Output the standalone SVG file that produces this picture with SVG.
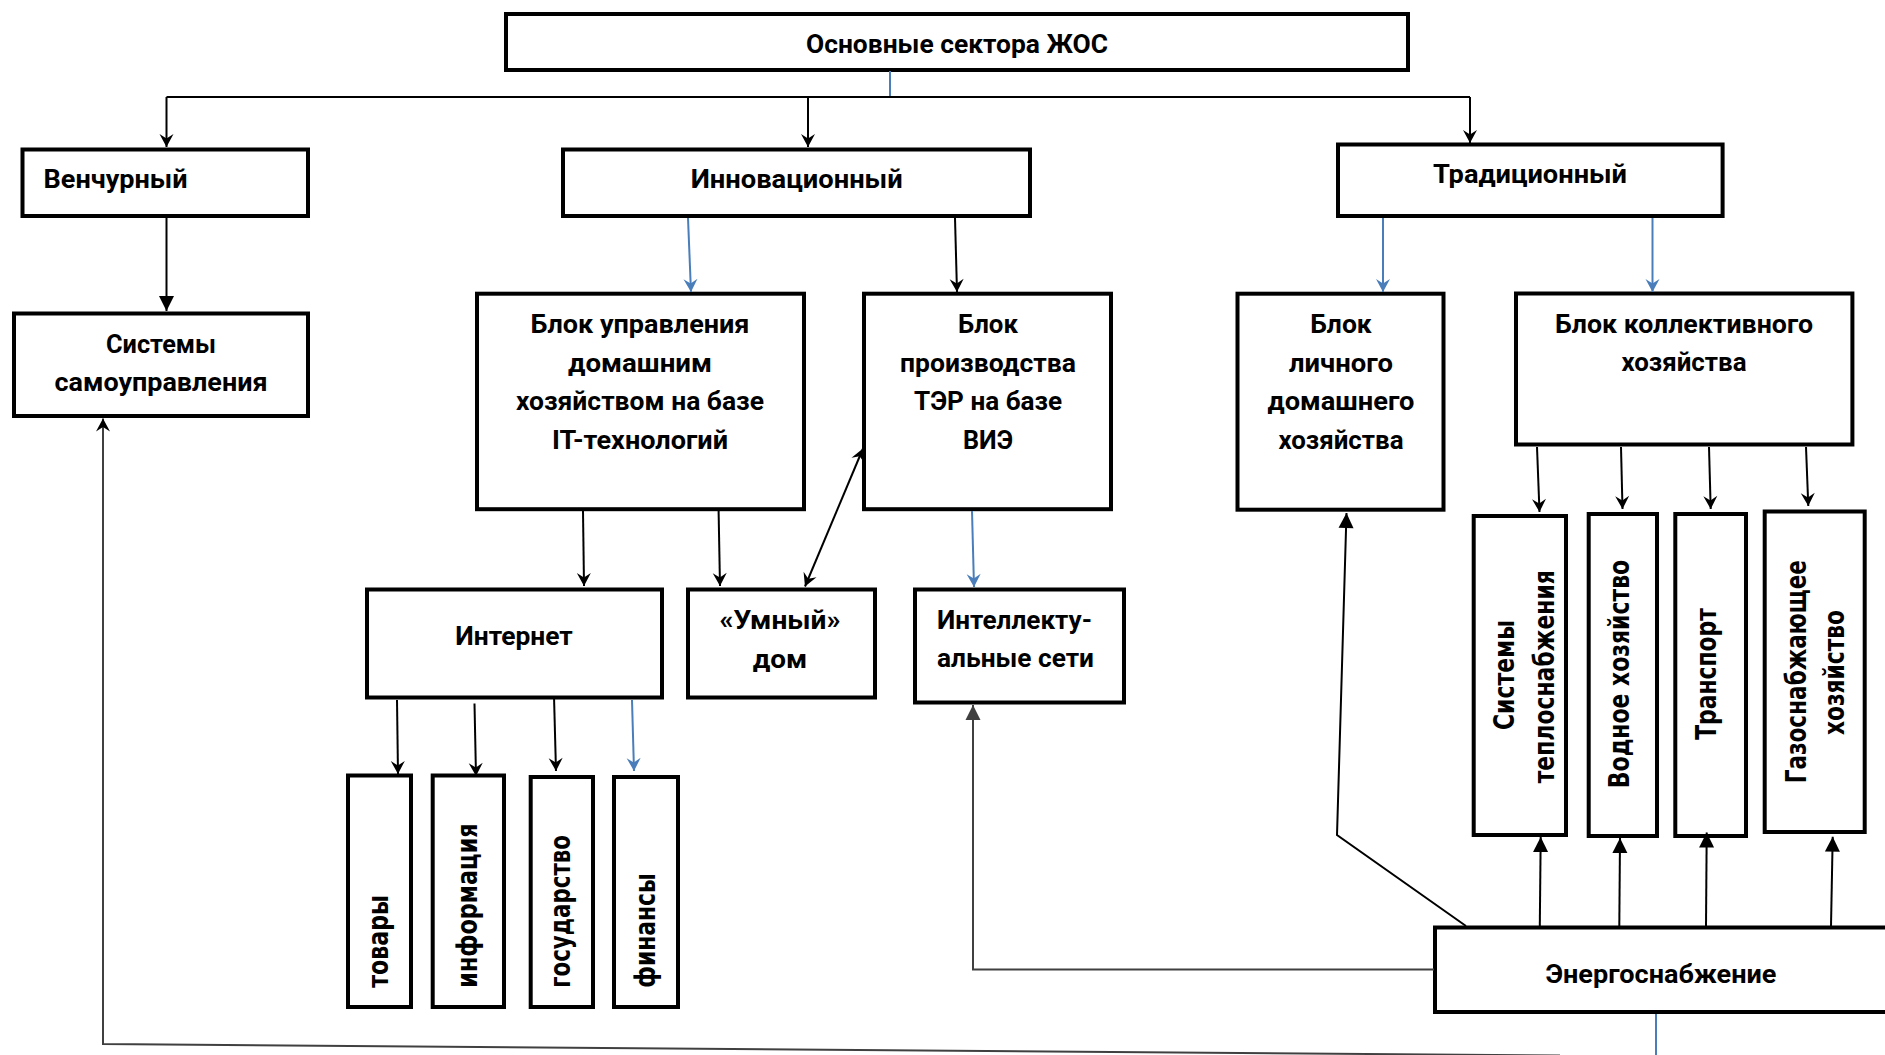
<svg xmlns="http://www.w3.org/2000/svg" width="1885" height="1055" viewBox="0 0 1885 1055">
<style>
.box{fill:#fff;stroke:#000;stroke-width:4}
.t{font-family:Roboto,"Liberation Sans",sans-serif;font-weight:700;font-size:26px;fill:#000}
.m{text-anchor:middle}
.v{font-family:"DejaVu Sans",sans-serif;font-weight:700;font-size:28.5px;fill:#000}
.c{fill:none;stroke:#000;stroke-width:2}
.cb{stroke:#4a7ebb}
.cg{stroke:#404040}
</style>
<defs>
<marker id="st" markerUnits="userSpaceOnUse" viewBox="-15 -8 16 16" refX="0" refY="0" markerWidth="16" markerHeight="16" orient="auto-start-reverse" overflow="visible"><path d="M0,0 L-13,-7 L-8.5,0 L-13,7 Z" fill="#000"/></marker>
<marker id="stb" markerUnits="userSpaceOnUse" viewBox="-15 -8 16 16" refX="0" refY="0" markerWidth="16" markerHeight="16" orient="auto" overflow="visible"><path d="M0,0 L-13,-7 L-8.5,0 L-13,7 Z" fill="#4a7ebb"/></marker>
<marker id="tr" markerUnits="userSpaceOnUse" viewBox="-16 -8 17 16" refX="0" refY="0" markerWidth="17" markerHeight="16" orient="auto" overflow="visible"><path d="M0,0 L-15,-7.5 L-15,7.5 Z" fill="#000"/></marker>
<marker id="trg" markerUnits="userSpaceOnUse" viewBox="-16 -8 17 16" refX="0" refY="0" markerWidth="17" markerHeight="16" orient="auto" overflow="visible"><path d="M0,0 L-15,-7.5 L-15,7.5 Z" fill="#404040"/></marker>
</defs>
<rect width="1885" height="1055" fill="#fff"/>

<g id="n-top"><rect class="box" x="506" y="14" width="902" height="56"/><text class="t m" x="957" y="52.7" textLength="302" lengthAdjust="spacingAndGlyphs">Основные сектора ЖОС</text></g>
<g id="n-venture"><rect class="box" x="22.5" y="149.5" width="285.5" height="66.5"/><text class="t" x="43.6" y="188" textLength="144" lengthAdjust="spacingAndGlyphs">Венчурный</text></g>
<g id="n-selfgov"><rect class="box" x="14" y="313.5" width="294" height="102.5"/><text class="t m" x="161" y="353" textLength="110" lengthAdjust="spacingAndGlyphs">Системы</text><text class="t m" x="161" y="391" textLength="213" lengthAdjust="spacingAndGlyphs">самоуправления</text></g>
<g id="n-innov"><rect class="box" x="563" y="149.5" width="467" height="66.5"/><text class="t m" x="796.7" y="188" textLength="212" lengthAdjust="spacingAndGlyphs">Инновационный</text></g>
<g id="n-trad"><rect class="box" x="1338" y="144.5" width="384.6" height="71.5"/><text class="t m" x="1530" y="182.7" textLength="194" lengthAdjust="spacingAndGlyphs">Традиционный</text></g>
<g id="n-homemgmt"><rect class="box" x="477" y="293.7" width="327" height="215.5"/>
<text class="t m" x="640" y="332.7" textLength="219" lengthAdjust="spacingAndGlyphs">Блок управления</text>
<text class="t m" x="640" y="371.7" textLength="144" lengthAdjust="spacingAndGlyphs">домашним</text>
<text class="t m" x="640" y="410" textLength="248" lengthAdjust="spacingAndGlyphs">хозяйством на базе</text>
<text class="t m" x="640" y="448.5" textLength="176" lengthAdjust="spacingAndGlyphs">IT-технологий</text></g>
<g id="n-ter"><rect class="box" x="864" y="293.7" width="247" height="215.5"/>
<text class="t m" x="988" y="332.7" textLength="60" lengthAdjust="spacingAndGlyphs">Блок</text>
<text class="t m" x="988" y="371.7" textLength="176" lengthAdjust="spacingAndGlyphs">производства</text>
<text class="t m" x="988" y="410" textLength="148" lengthAdjust="spacingAndGlyphs">ТЭР на базе</text>
<text class="t m" x="988" y="448.5" textLength="50" lengthAdjust="spacingAndGlyphs">ВИЭ</text></g>
<g id="n-personal"><rect class="box" x="1237.5" y="293.7" width="206" height="216"/>
<text class="t m" x="1341" y="332.7" textLength="61.5" lengthAdjust="spacingAndGlyphs">Блок</text>
<text class="t m" x="1341" y="371.7" textLength="104" lengthAdjust="spacingAndGlyphs">личного</text>
<text class="t m" x="1341" y="410" textLength="147" lengthAdjust="spacingAndGlyphs">домашнего</text>
<text class="t m" x="1341" y="448.5" textLength="125" lengthAdjust="spacingAndGlyphs">хозяйства</text></g>
<g id="n-collective"><rect class="box" x="1516" y="293.5" width="336.4" height="151"/>
<text class="t m" x="1684" y="332.7" textLength="258" lengthAdjust="spacingAndGlyphs">Блок коллективного</text>
<text class="t m" x="1684" y="371" textLength="125" lengthAdjust="spacingAndGlyphs">хозяйства</text></g>
<g id="n-internet"><rect class="box" x="367" y="589.5" width="295" height="108"/><text class="t m" x="514" y="644.7" textLength="117.5" lengthAdjust="spacingAndGlyphs">Интернет</text></g>
<g id="n-smart"><rect class="box" x="688" y="589.5" width="187" height="108"/><text class="t m" x="780" y="629" textLength="121" lengthAdjust="spacingAndGlyphs">«Умный»</text><text class="t m" x="780" y="667.5" textLength="54.5" lengthAdjust="spacingAndGlyphs">дом</text></g>
<g id="n-grids"><rect class="box" x="915" y="589.5" width="209" height="113"/><text class="t m" x="1014.5" y="629" textLength="155" lengthAdjust="spacingAndGlyphs">Интеллекту-</text><text class="t m" x="1015.5" y="666.7" textLength="157" lengthAdjust="spacingAndGlyphs">альные сети</text></g>
<g id="n-goods"><rect class="box" x="348" y="775.5" width="63" height="231.5"/><text class="v" transform="translate(387.5,987.7) rotate(-90)" textLength="92.7" lengthAdjust="spacingAndGlyphs">товары</text></g>
<g id="n-info"><rect class="box" x="432.7" y="775.5" width="71.3" height="231.5"/><text class="v" transform="translate(476.5,987.7) rotate(-90)" textLength="164.3" lengthAdjust="spacingAndGlyphs">информация</text></g>
<g id="n-state"><rect class="box" x="530.7" y="777" width="62.3" height="230"/><text class="v" transform="translate(570,987.7) rotate(-90)" textLength="152.7" lengthAdjust="spacingAndGlyphs">государство</text></g>
<g id="n-finance"><rect class="box" x="614" y="777" width="64" height="230"/><text class="v" transform="translate(654.5,987.7) rotate(-90)" textLength="114.3" lengthAdjust="spacingAndGlyphs">финансы</text></g>
<g id="n-heat"><rect class="box" x="1473.7" y="516" width="92.3" height="319"/><text class="v m" transform="translate(1514,675) rotate(-90)" textLength="110" lengthAdjust="spacingAndGlyphs">Системы</text><text class="v m" transform="translate(1554,676.7) rotate(-90)" textLength="213.3" lengthAdjust="spacingAndGlyphs">теплоснабжения</text></g>
<g id="n-water"><rect class="box" x="1588.7" y="514" width="68.3" height="322"/><text class="v m" transform="translate(1629,674) rotate(-90)" textLength="228.3" lengthAdjust="spacingAndGlyphs">Водное хозяйство</text></g>
<g id="n-transport"><rect class="box" x="1675.3" y="514" width="70.7" height="322"/><text class="v m" transform="translate(1716,674) rotate(-90)" textLength="131.7" lengthAdjust="spacingAndGlyphs">Транспорт</text></g>
<g id="n-gas"><rect class="box" x="1764.7" y="511.5" width="100" height="320.5"/><text class="v m" transform="translate(1806,671.7) rotate(-90)" textLength="223.3" lengthAdjust="spacingAndGlyphs">Газоснабжающее</text><text class="v m" transform="translate(1844,672.5) rotate(-90)" textLength="125" lengthAdjust="spacingAndGlyphs">хозяйство</text></g>
<g id="n-energy"><rect class="box" x="1435" y="927.5" width="500" height="84.5"/><text class="t m" x="1661" y="983" textLength="231" lengthAdjust="spacingAndGlyphs">Энергоснабжение</text></g>

<g id="connectors">
<path class="c cb" d="M890,71 V97"/>
<path class="c" d="M166.5,97 H1470"/>
<path class="c" d="M166.5,97 V147" marker-end="url(#st)"/>
<path class="c" d="M808,97 V147" marker-end="url(#st)"/>
<path class="c" d="M1470,97 V143" marker-end="url(#st)"/>
<path class="c" d="M166.5,218 V311" marker-end="url(#tr)"/>
<path class="c cb" d="M688,218 L691,292" marker-end="url(#stb)"/>
<path class="c" d="M955,218 L957,292" marker-end="url(#st)"/>
<path class="c cb" d="M1383,218 V292" marker-end="url(#stb)"/>
<path class="c cb" d="M1652.5,218 V292" marker-end="url(#stb)"/>
<path class="c" d="M583,511 L584,586" marker-end="url(#st)"/>
<path class="c" d="M718.6,511 L720,586" marker-end="url(#st)"/>
<path class="c" d="M805,586.5 L863,448.5" marker-start="url(#st)" marker-end="url(#st)"/>
<path class="c cb" d="M972,511 L974,587" marker-end="url(#stb)"/>
<path class="c" d="M397,700 L398,774" marker-end="url(#st)"/>
<path class="c" d="M474.5,703.5 L476,776" marker-end="url(#st)"/>
<path class="c" d="M554,696 L556,771" marker-end="url(#st)"/>
<path class="c cb" d="M632,700 L634,771" marker-end="url(#stb)"/>
<path class="c" d="M1537,447 L1539.5,512" marker-end="url(#st)"/>
<path class="c" d="M1621,447 L1622.5,509" marker-end="url(#st)"/>
<path class="c" d="M1709,447 L1710.7,509" marker-end="url(#st)"/>
<path class="c" d="M1806,447 L1808.3,506" marker-end="url(#st)"/>
<path class="c" d="M1539.8,926 L1540.7,837" marker-end="url(#tr)"/>
<path class="c" d="M1619.3,926 L1620,838" marker-end="url(#tr)"/>
<path class="c" d="M1706,926 L1706.7,832.5" marker-end="url(#tr)"/>
<path class="c" d="M1831,926 L1832.7,836.7" marker-end="url(#tr)"/>
<path class="c" d="M1466,926 L1337,835 L1346.5,513" marker-end="url(#tr)"/>
<path class="c cg" d="M1434,969.4 H973 V705" marker-end="url(#trg)"/>
<path class="c cb" d="M1656,1014 V1055"/>
<path class="c cg" d="M1560,1055.5 L103,1044 V418.5" marker-end="url(#st)"/>
</g>
</svg>
